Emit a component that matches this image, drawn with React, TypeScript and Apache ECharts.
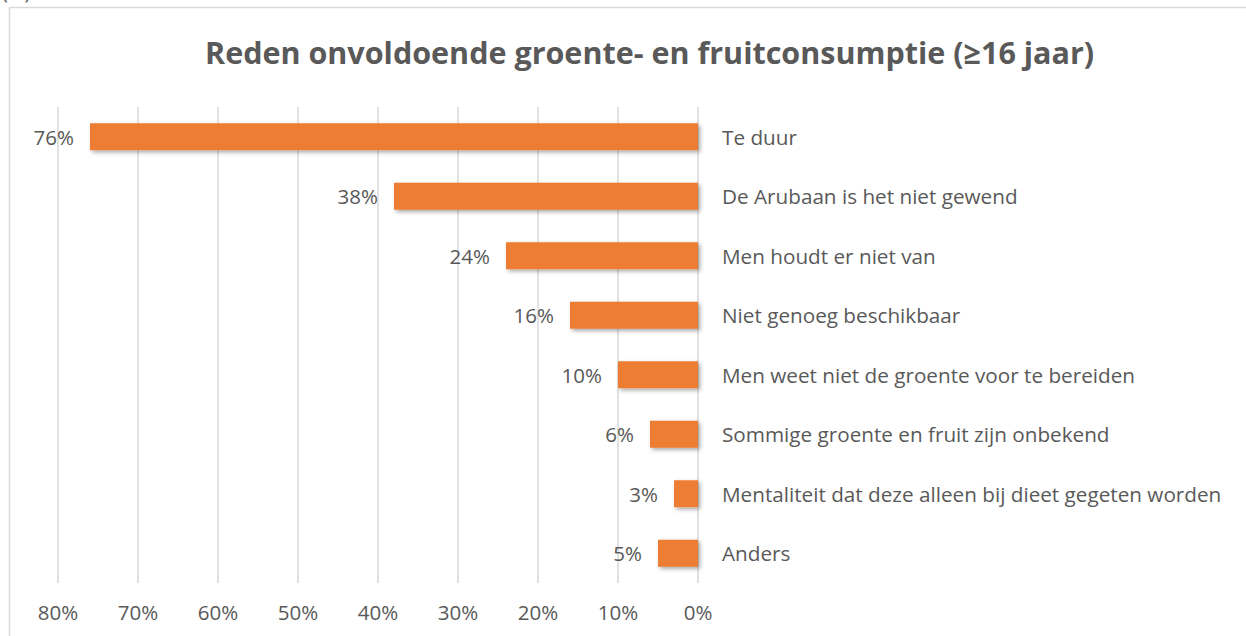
import React, { useEffect, useRef } from "react";
import * as echarts from "echarts";

const categories = [
  "Te duur",
  "De Arubaan is het niet gewend",
  "Men houdt er niet van",
  "Niet genoeg beschikbaar",
  "Men weet niet de groente voor te bereiden",
  "Sommige groente en fruit zijn onbekend",
  "Mentaliteit dat deze alleen bij dieet gegeten worden",
  "Anders",
];
const values = [0.76, 0.38, 0.24, 0.16, 0.10, 0.06, 0.03, 0.05];
const valueLabels = ["76%", "38%", "24%", "16%", "10%", "6%", "3%", "5%"];
const titleText = "Reden onvoldoende groente- en fruitconsumptie (≥16 jaar)";

export default function App() {
  const ref = useRef<HTMLDivElement>(null);
  useEffect(() => {
    const chart = echarts.init(ref.current!, null, { renderer: "svg" });
    const font = "'Open Sans', sans-serif";
    chart.setOption({
      animation: false,
      backgroundColor: "#ffffff",
      textStyle: { fontFamily: font },
      title: {
        text: titleText,
        left: 200,
        top: 31,
        textStyle: { fontSize: 30.5, fontWeight: "bold", color: "#595959", fontFamily: font },
      },
      graphic: [
        {
          type: "rect",
          shape: { x: 9.5, y: 7.5, width: 1300, height: 700 },
          style: { fill: "none", stroke: "#d9d9d9", lineWidth: 1.5 },
          silent: true,
        },
        {
          type: "text",
          x: 2,
          y: -19,
          style: { text: "(%)", fontSize: 20, fill: "#595959", fontFamily: font },
        },
      ],
      grid: { left: 58, right: 548, top: 107, height: 476, containLabel: false },
      xAxis: {
        type: "value",
        inverse: true,
        min: 0,
        max: 0.8,
        interval: 0.1,
        axisLine: { show: false },
        axisTick: { show: false },
        splitLine: { show: true, lineStyle: { color: "#d9d9d9", width: 1.5 } },
        axisLabel: {
          color: "#595959",
          fontSize: 20.5,
          margin: 18,
          fontFamily: font,
          formatter: (v: number) => Math.round(v * 100) + "%",
        },
      },
      yAxis: {
        type: "category",
        data: categories,
        inverse: true,
        position: "right",
        axisLine: { show: false },
        axisTick: { show: false },
        axisLabel: { color: "#595959", fontSize: 20.7, margin: 24, align: "left", fontFamily: font },
      },
      series: [
        {
          type: "bar",
          data: values,
          barWidth: 27,
          itemStyle: {
            color: "#ED7D31",
            shadowBlur: 4,
            shadowOffsetX: 2,
            shadowOffsetY: 2,
            shadowColor: "rgba(0,0,0,0.35)",
          },
          label: {
            show: true,
            position: "left",
            distance: 16,
            color: "#595959",
            fontSize: 20.5,
            fontFamily: font,
            formatter: (p: any) => valueLabels[p.dataIndex],
          },
        },
      ],
    });
    return () => chart.dispose();
  }, []);
  return (
    <div
      ref={ref}
      style={{ position: "fixed", left: 0, top: 0, width: 1246, height: 636 }}
    />
  );
}
